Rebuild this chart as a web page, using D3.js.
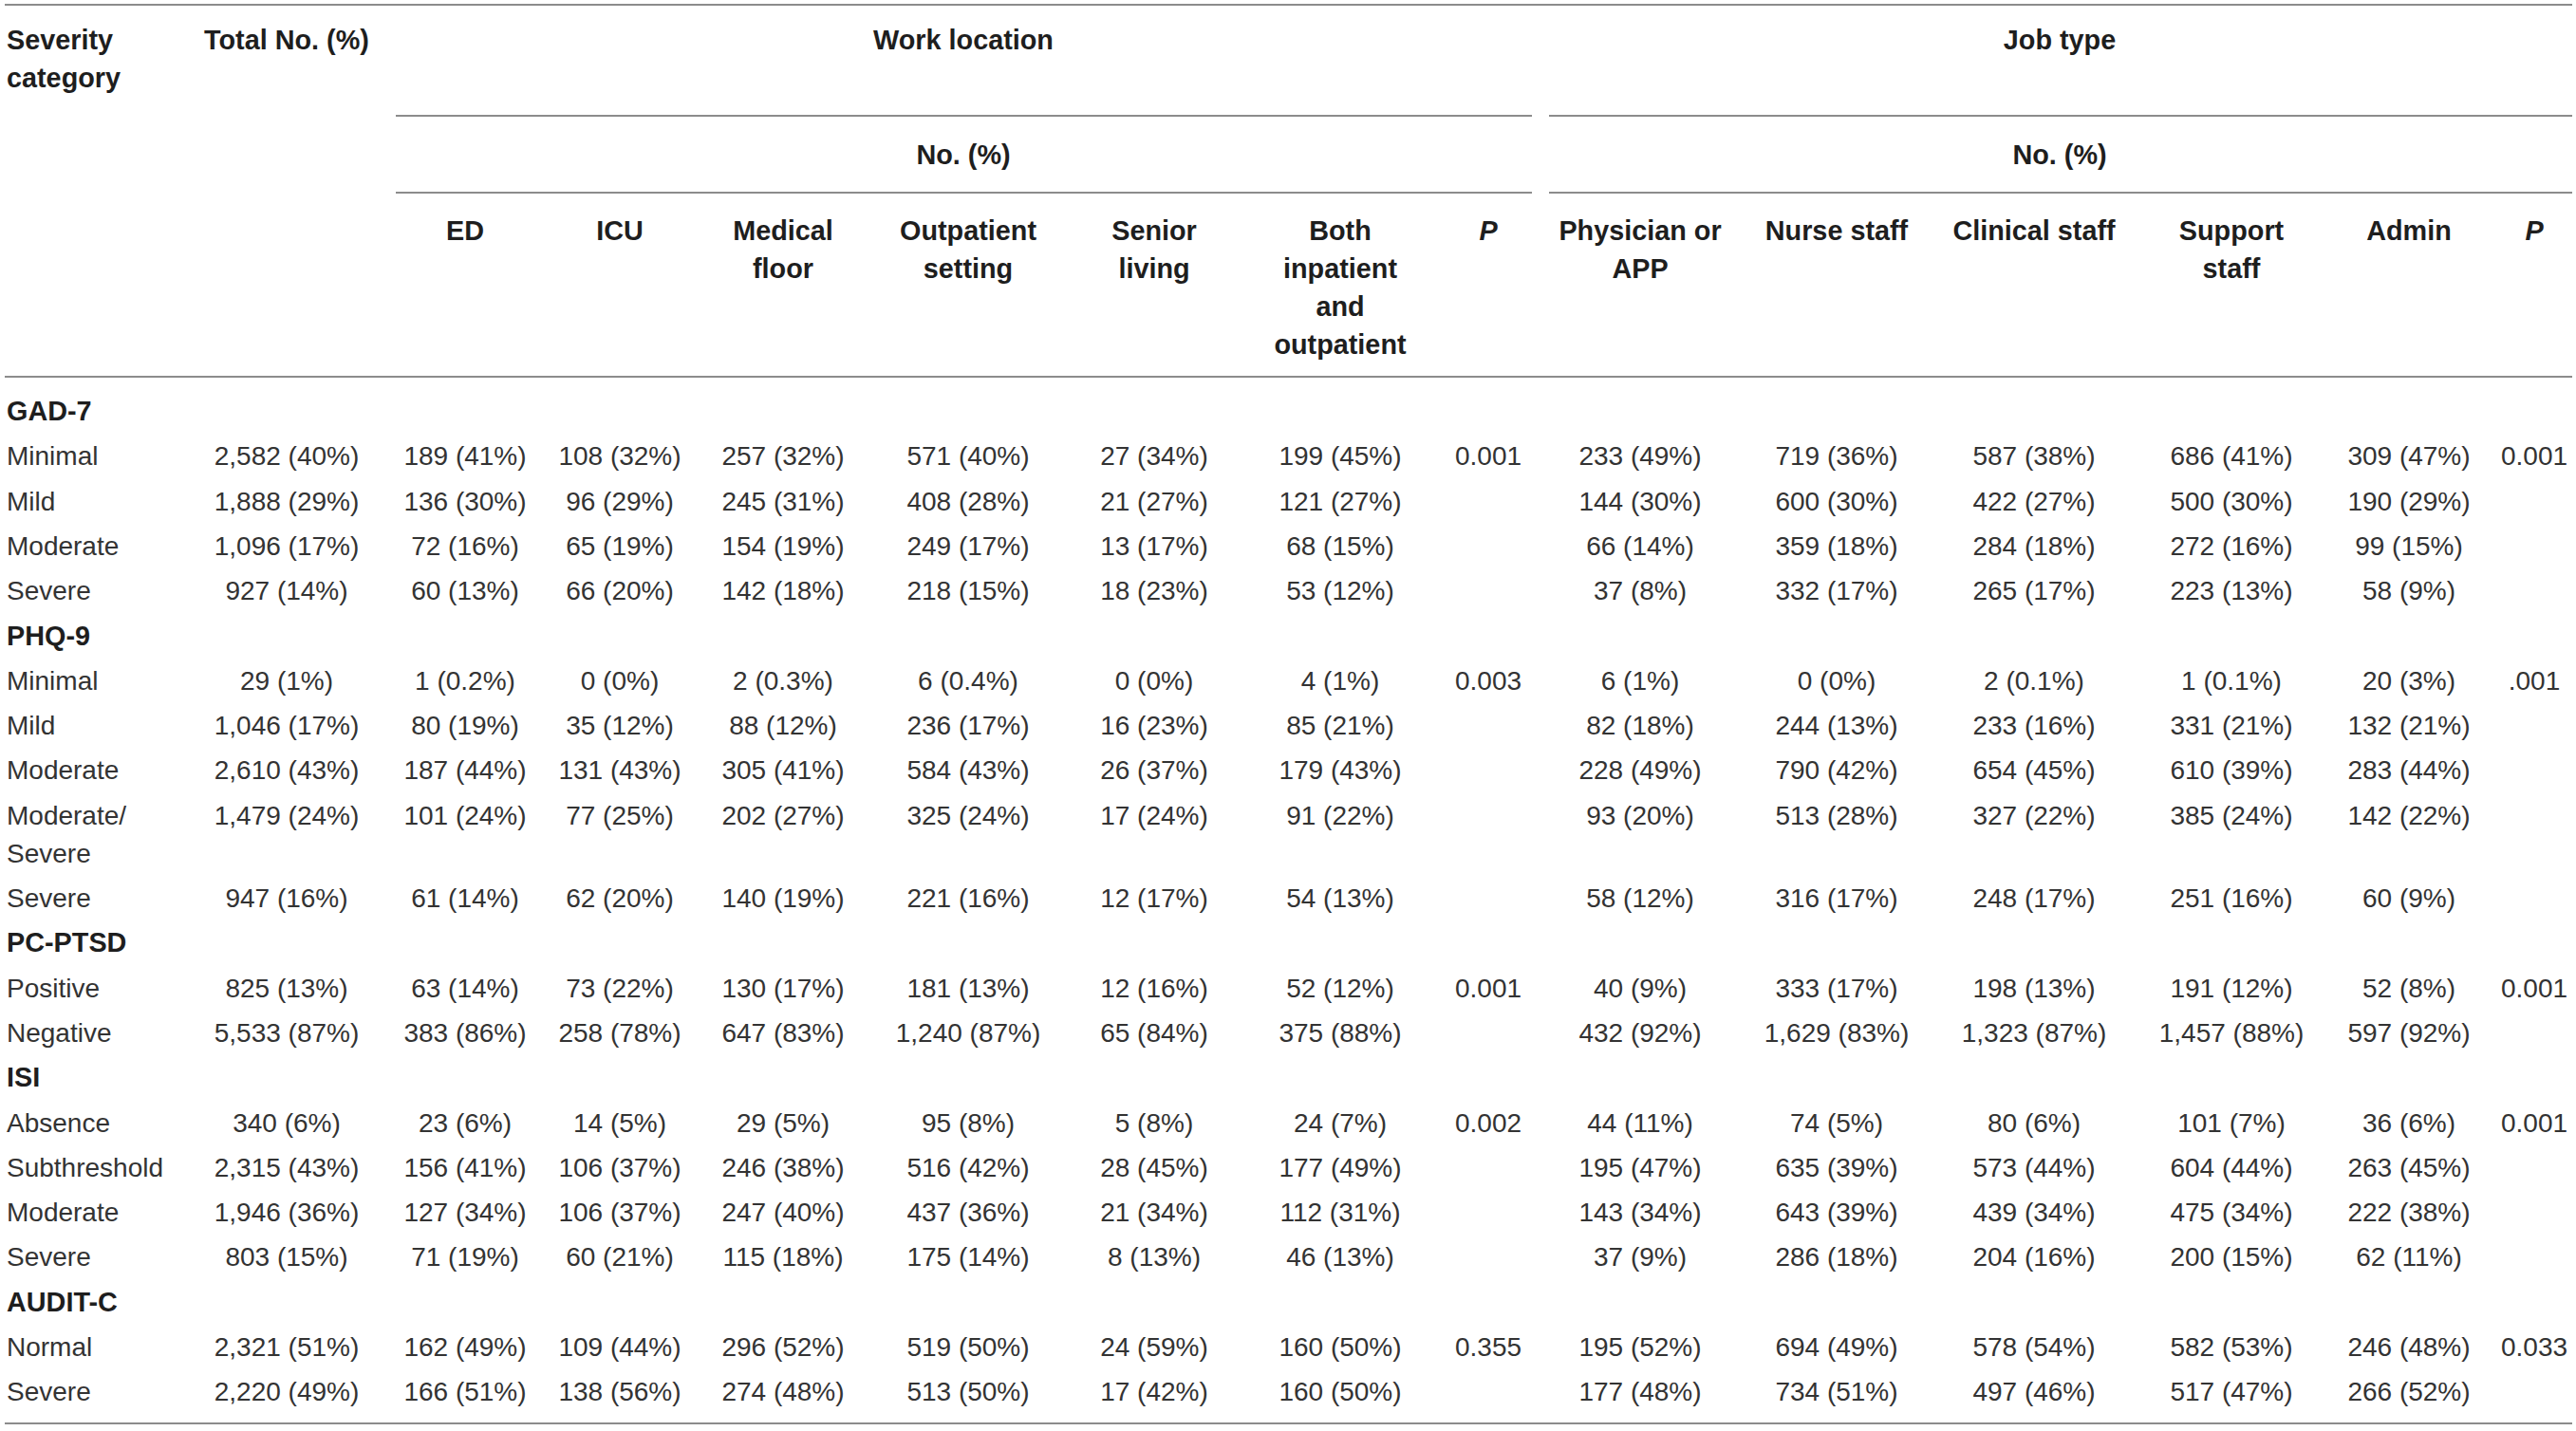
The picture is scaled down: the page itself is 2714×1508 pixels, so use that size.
<!DOCTYPE html>
<html lang="en">
<head>
<meta charset="UTF-8">
<title>Severity categories by work location and job type</title>
<script src="https://d3js.org/d3.v7.min.js"></script>
<style>
  body { margin: 0; background: #fff; }
  svg text { font-family: "Liberation Sans", Arial, Helvetica, sans-serif; font-size: 28px; }
  svg text.head { font-size: 28.8px; }
</style>
</head>
<body>
<svg id="chart" width="2714" height="1508"></svg>
<script>
const sections = ["GAD-7", "PHQ-9", "PC-PTSD", "ISI", "AUDIT-C"];
const categories = [
  ["Minimal", "Mild", "Moderate", "Severe"],
  ["Minimal", "Mild", "Moderate", "Moderate/|Severe", "Severe"],
  ["Positive", "Negative"],
  ["Absence", "Subthreshold", "Moderate", "Severe"],
  ["Normal", "Severe"]
];

const totalNo = ["2,582 (40%)", "1,888 (29%)", "1,096 (17%)", "927 (14%)",
  "29 (1%)", "1,046 (17%)", "2,610 (43%)", "1,479 (24%)", "947 (16%)",
  "825 (13%)", "5,533 (87%)",
  "340 (6%)", "2,315 (43%)", "1,946 (36%)", "803 (15%)",
  "2,321 (51%)", "2,220 (49%)"];

// work location
const ed = ["189 (41%)", "136 (30%)", "72 (16%)", "60 (13%)",
  "1 (0.2%)", "80 (19%)", "187 (44%)", "101 (24%)", "61 (14%)",
  "63 (14%)", "383 (86%)",
  "23 (6%)", "156 (41%)", "127 (34%)", "71 (19%)",
  "162 (49%)", "166 (51%)"];
const icu = ["108 (32%)", "96 (29%)", "65 (19%)", "66 (20%)",
  "0 (0%)", "35 (12%)", "131 (43%)", "77 (25%)", "62 (20%)",
  "73 (22%)", "258 (78%)",
  "14 (5%)", "106 (37%)", "106 (37%)", "60 (21%)",
  "109 (44%)", "138 (56%)"];
const medicalFloor = ["257 (32%)", "245 (31%)", "154 (19%)", "142 (18%)",
  "2 (0.3%)", "88 (12%)", "305 (41%)", "202 (27%)", "140 (19%)",
  "130 (17%)", "647 (83%)",
  "29 (5%)", "246 (38%)", "247 (40%)", "115 (18%)",
  "296 (52%)", "274 (48%)"];
const outpatient = ["571 (40%)", "408 (28%)", "249 (17%)", "218 (15%)",
  "6 (0.4%)", "236 (17%)", "584 (43%)", "325 (24%)", "221 (16%)",
  "181 (13%)", "1,240 (87%)",
  "95 (8%)", "516 (42%)", "437 (36%)", "175 (14%)",
  "519 (50%)", "513 (50%)"];
const seniorLiving = ["27 (34%)", "21 (27%)", "13 (17%)", "18 (23%)",
  "0 (0%)", "16 (23%)", "26 (37%)", "17 (24%)", "12 (17%)",
  "12 (16%)", "65 (84%)",
  "5 (8%)", "28 (45%)", "21 (34%)", "8 (13%)",
  "24 (59%)", "17 (42%)"];
const bothInOut = ["199 (45%)", "121 (27%)", "68 (15%)", "53 (12%)",
  "4 (1%)", "85 (21%)", "179 (43%)", "91 (22%)", "54 (13%)",
  "52 (12%)", "375 (88%)",
  "24 (7%)", "177 (49%)", "112 (31%)", "46 (13%)",
  "160 (50%)", "160 (50%)"];
const pWork = ["0.001", "0.003", "0.001", "0.002", "0.355"];

// job type
const physician = ["233 (49%)", "144 (30%)", "66 (14%)", "37 (8%)",
  "6 (1%)", "82 (18%)", "228 (49%)", "93 (20%)", "58 (12%)",
  "40 (9%)", "432 (92%)",
  "44 (11%)", "195 (47%)", "143 (34%)", "37 (9%)",
  "195 (52%)", "177 (48%)"];
const nurse = ["719 (36%)", "600 (30%)", "359 (18%)", "332 (17%)",
  "0 (0%)", "244 (13%)", "790 (42%)", "513 (28%)", "316 (17%)",
  "333 (17%)", "1,629 (83%)",
  "74 (5%)", "635 (39%)", "643 (39%)", "286 (18%)",
  "694 (49%)", "734 (51%)"];
const clinical = ["587 (38%)", "422 (27%)", "284 (18%)", "265 (17%)",
  "2 (0.1%)", "233 (16%)", "654 (45%)", "327 (22%)", "248 (17%)",
  "198 (13%)", "1,323 (87%)",
  "80 (6%)", "573 (44%)", "439 (34%)", "204 (16%)",
  "578 (54%)", "497 (46%)"];
const support = ["686 (41%)", "500 (30%)", "272 (16%)", "223 (13%)",
  "1 (0.1%)", "331 (21%)", "610 (39%)", "385 (24%)", "251 (16%)",
  "191 (12%)", "1,457 (88%)",
  "101 (7%)", "604 (44%)", "475 (34%)", "200 (15%)",
  "582 (53%)", "517 (47%)"];
const admin = ["309 (47%)", "190 (29%)", "99 (15%)", "58 (9%)",
  "20 (3%)", "132 (21%)", "283 (44%)", "142 (22%)", "60 (9%)",
  "52 (8%)", "597 (92%)",
  "36 (6%)", "263 (45%)", "222 (38%)", "62 (11%)",
  "246 (48%)", "266 (52%)"];
const pJob = ["0.001", ".001", "0.001", "0.001", "0.033"];

// column headers (lines of each)
const columnKeys = ["total", "ed", "icu", "med", "out", "senior", "both", "pw",
  "phys", "nurse", "clin", "supp", "admin", "pj"];
const columnHeads = [["Total No. (%)"], ["ED"], ["ICU"], ["Medical", "floor"],
  ["Outpatient", "setting"], ["Senior", "living"], ["Both", "inpatient", "and", "outpatient"],
  ["P"], ["Physician or", "APP"], ["Nurse staff"], ["Clinical staff"],
  ["Support", "staff"], ["Admin"], ["P"]];
const columnValues = [totalNo, ed, icu, medicalFloor, outpatient, seniorLiving, bothInOut,
  null, physician, nurse, clinical, support, admin, null];

// ---- layout ----
const svg = d3.select("#chart");
const lineH = 40;          // wrapped line pitch
const rowH = 47.3;         // single line row pitch
const firstBaseline = 443;
const ink = "#333333", headInk = "#1e1e1e", rule = "#8c8c8c";

const x = d3.scaleOrdinal()
  .domain(columnKeys)
  .range([302, 490, 653, 825, 1020, 1216, 1412, 1568, 1728, 1935, 2143, 2351, 2538, 2670]);

// rules
const rules = [
  { x1: 5, x2: 2710, y: 5 },
  { x1: 417, x2: 1614, y: 122 },
  { x1: 1632, x2: 2710, y: 122 },
  { x1: 417, x2: 1614, y: 203 },
  { x1: 1632, x2: 2710, y: 203 },
  { x1: 5, x2: 2710, y: 397 },
  { x1: 5, x2: 2710, y: 1500 }
];
svg.selectAll("line.rule").data(rules).join("line")
  .attr("class", "rule")
  .attr("x1", d => d.x1).attr("x2", d => d.x2)
  .attr("y1", d => d.y).attr("y2", d => d.y)
  .attr("stroke", rule).attr("stroke-width", 2);

// header text
function multiline(sel, lines, x0, y0, anchor) {
  const t = sel.append("text")
    .attr("class", "head")
    .attr("x", x0).attr("y", y0)
    .attr("text-anchor", anchor)
    .attr("font-weight", "bold")
    .attr("fill", headInk);
  lines.forEach((l, i) => {
    t.append("tspan").attr("x", x0).attr("y", y0 + i * lineH).text(l);
  });
  return t;
}

multiline(svg, ["Severity", "category"], 7, 52, "start");
multiline(svg, ["Work location"], 1015, 52, "middle");
multiline(svg, ["Job type"], 2170, 52, "middle");
multiline(svg, ["No. (%)"], 1015, 173, "middle");
multiline(svg, ["No. (%)"], 2170, 173, "middle");

columnKeys.forEach((k, i) => {
  const top = k === "total" ? 52 : 253;
  const t = multiline(svg, columnHeads[i], x(k), top, "middle");
  if (columnHeads[i][0] === "P") t.attr("font-style", "italic");
});

// rows: section headings + category rows
const rows = [];
let di = 0;
sections.forEach((s, si) => {
  rows.push({ type: "section", label: s, si });
  categories[si].forEach((c, ci) => {
    rows.push({ type: "data", label: c.split("|"), si, ci, di });
    di++;
  });
});
let yPos = firstBaseline;
rows.forEach(r => {
  r.y = yPos;
  const n = r.type === "data" ? r.label.length : 1;
  yPos += rowH + (n - 1) * lineH;
});

const body = svg.append("g");

body.selectAll("text.section").data(rows.filter(r => r.type === "section")).join("text")
  .attr("class", "section head")
  .attr("x", 7).attr("y", d => d.y)
  .attr("font-weight", "bold").attr("fill", headInk)
  .text(d => d.label);

const dataRows = rows.filter(r => r.type === "data");

body.selectAll("text.cat").data(dataRows).join("text")
  .attr("class", "cat")
  .attr("x", 7).attr("y", d => d.y)
  .attr("fill", ink)
  .each(function (d) {
    d3.select(this).selectAll("tspan").data(d.label).join("tspan")
      .attr("x", 7).attr("y", (l, i) => d.y + i * lineH)
      .text(l => l);
  });

columnKeys.forEach((k, i) => {
  const vals = columnValues[i];
  if (vals) {
    body.selectAll("text.v-" + k).data(dataRows).join("text")
      .attr("class", "v-" + k)
      .attr("x", x(k)).attr("y", d => d.y)
      .attr("text-anchor", "middle").attr("fill", ink)
      .text(d => vals[d.di]);
  }
});

// P values on the first row of each section
const firstRows = dataRows.filter(r => r.ci === 0);
body.selectAll("text.pw").data(firstRows).join("text")
  .attr("class", "pw")
  .attr("x", x("pw")).attr("y", d => d.y)
  .attr("text-anchor", "middle").attr("fill", ink)
  .text(d => pWork[d.si]);
body.selectAll("text.pj").data(firstRows).join("text")
  .attr("class", "pj")
  .attr("x", x("pj")).attr("y", d => d.y)
  .attr("text-anchor", "middle").attr("fill", ink)
  .text(d => pJob[d.si]);
</script>
</body>
</html>
